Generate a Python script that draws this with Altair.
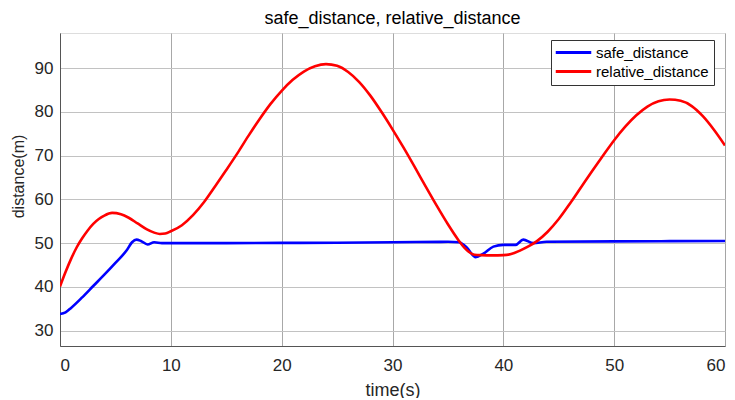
import altair as alt
import pandas as pd

# ---- data ----
series_names = ["safe_distance", "relative_distance"]
series_colors = ["#0000ff", "#ff0000"]

safe_t = [0, 0.5, 1.0, 2.0, 3.0, 4.0, 5.0, 6.0, 6.5, 6.9, 7.3, 7.9, 8.5, 9.2,
          10, 15, 20, 25, 30, 35, 36, 36.7, 37.5, 38.2, 39.1, 40.0, 41.1, 41.8,
          42.7, 43.9, 50, 55, 60]
safe_v = [33.8, 34.2, 35.2, 37.6, 40.2, 42.8, 45.5, 48.3, 50.2, 50.8, 50.5, 49.7, 50.2, 50.0,
          50.0, 50.0, 50.05, 50.1, 50.2, 50.3, 50.2, 49.0, 46.8, 47.6, 49.2, 49.6, 49.6, 50.8,
          50.0, 50.3, 50.4, 50.45, 50.5]

rel_t = [0, 0.5, 1.0, 1.5, 2.0, 2.5, 3.0, 3.5, 4.0, 4.7, 5.5, 6.2, 7.0, 7.8, 8.5, 9.0, 9.5,
         10, 11, 12, 13, 14, 15, 16, 17, 18, 19, 20, 21, 22, 23, 24,
         25, 26, 27, 28, 29, 30, 31, 32, 33, 34, 35, 36, 36.5, 37.0, 37.4, 38, 39, 40,
         40.7, 41.5, 42.3, 43, 44, 45, 46, 47, 48, 49, 50, 51, 52, 53, 54, 55, 56, 57, 58, 59, 60]
rel_v = [40.1, 43.4, 46.4, 49.0, 51.1, 52.9, 54.4, 55.5, 56.3, 56.9, 56.6, 55.8, 54.5, 53.2, 52.4, 52.1, 52.2,
         52.7, 54.1, 56.4, 59.4, 63.0, 66.7, 70.5, 74.5, 78.3, 81.8, 84.8, 87.3, 89.2, 90.4, 90.9,
         90.5, 89.1, 86.8, 83.7, 80.0, 76.0, 71.8, 67.4, 62.9, 58.5, 54.3, 50.5, 48.9, 47.8, 47.35, 47.25, 47.2, 47.25,
         47.5, 48.3, 49.3, 50.4, 52.6, 55.5, 59.0, 62.7, 66.4, 70.0, 73.5, 76.6, 79.2, 81.2, 82.4, 82.8, 82.5, 81.3, 79.0, 75.9, 72.3]

x_ticks = [0, 10, 20, 30, 40, 50, 60]
y_ticks = [30, 40, 50, 60, 70, 80, 90]

df = pd.concat([
    pd.DataFrame({"time": safe_t, "distance": safe_v, "series": series_names[0]}),
    pd.DataFrame({"time": rel_t, "distance": rel_v, "series": series_names[1]}),
], ignore_index=True)

FONT = "Liberation Sans"
AX = "#262626"

chart = alt.Chart(df).mark_line(strokeWidth=2.6, interpolate="monotone", clip=True).encode(
    x=alt.X("time:Q",
            scale=alt.Scale(domain=[0, 60], nice=False, zero=False),
            axis=alt.Axis(values=x_ticks, title="time(s)", format="d",
                          grid=True, gridColor="#9e9e9e", gridOpacity=0.9,
                          ticks=False, labelPadding=11, titlePadding=8,
                          domainColor="#555555", labelFontSize=17, titleFontSize=18,
                          labelFont=FONT, titleFont=FONT, titleFontWeight="normal",
                          labelColor=AX, titleColor=AX)),
    y=alt.Y("distance:Q",
            scale=alt.Scale(domain=[26.5, 98], nice=False, zero=False),
            axis=alt.Axis(values=y_ticks, title="distance(m)", format="d",
                          grid=True, gridColor="#c2c2c2",
                          ticks=False, labelPadding=7, titlePadding=8,
                          titleY=143,
                          domainColor="#555555", labelFontSize=17, titleFontSize=16,
                          labelFont=FONT, titleFont=FONT, titleFontWeight="normal",
                          labelColor=AX, titleColor=AX)),
    color=alt.Color("series:N",
                    scale=alt.Scale(domain=series_names, range=series_colors),
                    sort=series_names,
                    legend=alt.Legend(title=None, orient="none", legendX=491, legendY=7,
                                      symbolType="M-3,0H3", symbolSize=140, symbolStrokeWidth=3,
                                      symbolOffset=10, labelOffset=15,
                                      labelFontSize=15, labelFont=FONT, labelColor="#000000",
                                      strokeColor="#333333", fillColor="#ffffff",
                                      padding=5, rowPadding=3)),
).properties(
    width=665,
    height=313,
    title=alt.TitleParams("safe_distance, relative_distance", fontSize=18, font=FONT,
                          fontWeight="normal", color="#000000", anchor="middle", offset=5),
    padding={"left": 52, "top": 25, "right": 2, "bottom": 52},
    autosize=alt.AutoSizeParams(type="none"),
).configure_view(stroke="#555555", strokeWidth=1).configure(background="white")

chart.save("out.html", embed_options={"renderer": "svg", "actions": False})
